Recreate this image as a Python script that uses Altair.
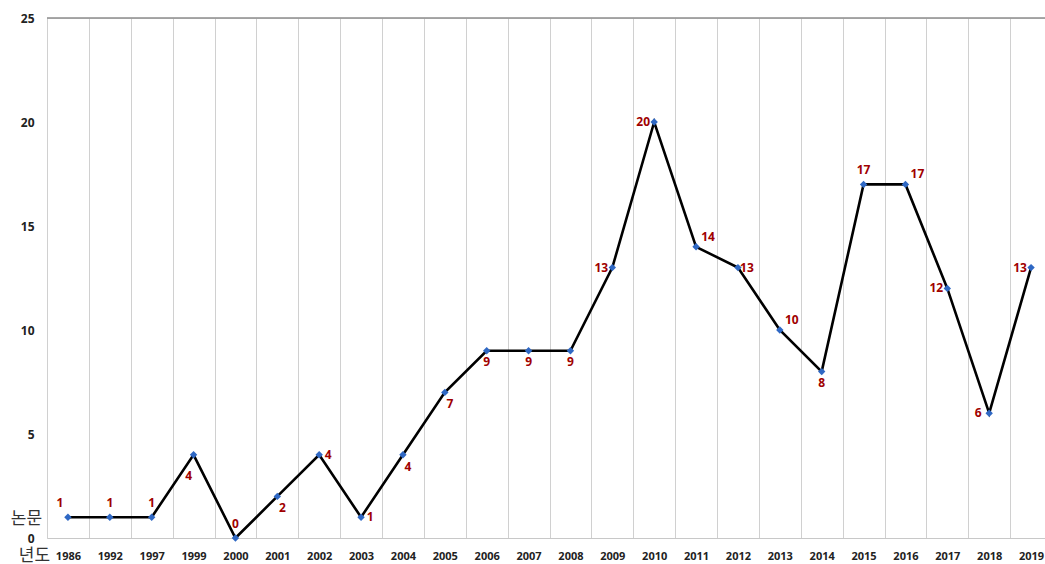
import altair as alt
import pandas as pd

years = ["1986", "1992", "1997", "1999", "2000", "2001", "2002", "2003", "2004", "2005",
         "2006", "2007", "2008", "2009", "2010", "2011", "2012", "2013", "2014", "2015",
         "2016", "2017", "2018", "2019"]
papers = [1, 1, 1, 4, 0, 2, 4, 1, 4, 7, 9, 9, 9, 13, 20, 14, 13, 10, 8, 17, 17, 12, 6, 13]
placement = ["above-left", "above", "above", "below-left", "above", "below-right", "right", "right",
             "below-right", "below-right", "below", "below", "below", "left", "left",
             "above-right", "right", "above-right", "below", "above", "above-right", "left",
             "left", "left"]

df = pd.DataFrame({"year": years, "papers": papers, "pos": placement})

FONT = "Open Sans"
x = alt.X("year:N", sort=years,
          scale=alt.Scale(paddingInner=0, paddingOuter=0, range=[0, 1005]),
          axis=alt.Axis(title="년도", titleFont="Noto Sans CJK KR", titleFontSize=17,
                        titleFontWeight="normal", titleColor="#333333",
                        titleX=-13, titleY=17, titleAlign="center", titleBaseline="middle",
                        labelAngle=0, labelFont=FONT, labelFontWeight="bold", labelFontSize=11,
                        labelColor="#222222", labelPadding=12, ticks=False,
                        grid=True, gridColor="#d0d0d0", gridWidth=1, tickBand="extent",
                        domainColor="#c8c8c8", domainWidth=1))
y = alt.Y("papers:Q", scale=alt.Scale(domain=[0, 25], nice=False),
          axis=alt.Axis(values=[0, 5, 10, 15, 20, 25], grid=False, domain=False, ticks=False,
                        labelFont=FONT, labelFontWeight="bold", labelFontSize=12,
                        labelColor="#222222", labelPadding=13,
                        title="논문", titleFont="Noto Sans CJK KR", titleFontSize=17,
                        titleFontWeight="normal", titleColor="#333333", titleAngle=0,
                        titleX=-21, titleY=500, titleAlign="center", titleBaseline="middle"))

base = alt.Chart(df)

top_rule = alt.Chart(pd.DataFrame({"v": [25]})).mark_rule(color="#8c8c8c", strokeWidth=1.5).encode(
    y=alt.Y("v:Q", scale=alt.Scale(domain=[0, 25], nice=False)),
    x=alt.value(0), x2=alt.value(1005))

line = base.mark_line(color="black", strokeWidth=2.6).encode(x=x, y=y)
pts = base.mark_point(shape="diamond", filled=True, color="#2f68c4", size=55, opacity=1).encode(x=x, y=y)

offsets = {
    "above": (0, -14),
    "above-left": (-8, -14),
    "below": (0, 11),
    "below-left": (-5, 21),
    "below-right": (5, 12),
    "right": (9, 0),
    "left": (-11, 0),
    "above-right": (12, -10),
}
labels = []
for pos, (dx, dy) in offsets.items():
    labels.append(
        base.transform_filter(alt.datum.pos == pos).mark_text(
            font=FONT, fontWeight="bold", fontSize=12, color="#a00000", dx=dx, dy=dy
        ).encode(x=x, y=y, text="papers:Q")
    )

chart = alt.layer(top_rule, line, pts, *labels).properties(
    width=998, height=520,
    padding={"left": 47, "top": 18, "right": 0, "bottom": 26},
    autosize=alt.AutoSizeParams(type="none"),
).configure_view(stroke=None).configure(background="white")

chart.save("out.html", embed_options={"renderer": "svg", "actions": False})
